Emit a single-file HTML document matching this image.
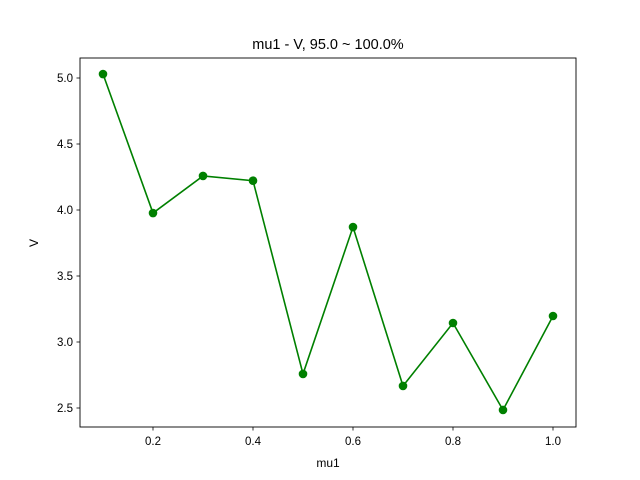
<!DOCTYPE html>
<html><head><meta charset="utf-8"><style>body{margin:0;background:#fff}svg{display:block;font-family:"Liberation Sans","DejaVu Sans",sans-serif}</style></head>
<body>
<svg id="chart" width="640" height="480">
<rect width="640" height="480" fill="#fff"/>
<text x="328" y="49" text-anchor="middle" font-size="14.5">mu1 - V, 95.0 ~ 100.0%</text>
<g id="plot"></g>
<rect x="80" y="58" width="496" height="369" fill="none" stroke="#000" stroke-width="0.9"/>
<text x="328" y="467" text-anchor="middle" font-size="12">mu1</text>
<text x="38" y="243" text-anchor="middle" font-size="12" transform="rotate(-90 38 243)">V</text>
</svg>
<script>
const xValues = [0.1,0.2,0.3,0.4,0.5,0.6,0.7,0.8,0.9,1.0];
const yValues = [5.03,3.977,4.258,4.222,2.758,3.871,2.667,3.144,2.485,3.197];
const xTicks = [0.2,0.4,0.6,0.8,1.0];
const yTicks = [2.5,3.0,3.5,4.0,4.5,5.0];
const xTickLabels = ["0.2","0.4","0.6","0.8","1.0"];
const yTickLabels = ["2.5","3.0","3.5","4.0","4.5","5.0"];

const sx = v => 103 + (v - 0.1) * 500;
const sy = v => 408 - (v - 2.5) * 132;
const NS = "http://www.w3.org/2000/svg";
const g = document.getElementById("plot");
function mk(tag, attrs){const e=document.createElementNS(NS,tag);for(const k in attrs)e.setAttribute(k,attrs[k]);g.appendChild(e);return e;}

xTicks.forEach((t,i)=>{
  const tk = mk("line",{x1:sx(t),x2:sx(t),y1:427,y2:430.5,stroke:"#000","stroke-width":0.8});
  
  
  const lb = mk("text",{x:sx(t),y:445,"text-anchor":"middle","font-size":"11.5"});
  lb.textContent = xTickLabels[i];
  
  
});
yTicks.forEach((t,i)=>{
  const tk = mk("line",{x1:76.5,x2:80,y1:sy(t),y2:sy(t),stroke:"#000","stroke-width":0.8});
  
  
  const lb = mk("text",{x:73,y:sy(t)+4,"text-anchor":"end","font-size":"11.5"});
  lb.textContent = yTickLabels[i];
  
  
});
const line = mk("polyline",{points:xValues.map((x,i)=>sx(x)+","+sy(yValues[i])).join(" "),fill:"none",stroke:"#008000","stroke-width":1.6});


xValues.forEach((x,i)=>{
  const c = mk("circle",{cx:sx(x),cy:sy(yValues[i]),r:4.3,fill:"#008000"});
  
  
});
</script>
</body></html>
